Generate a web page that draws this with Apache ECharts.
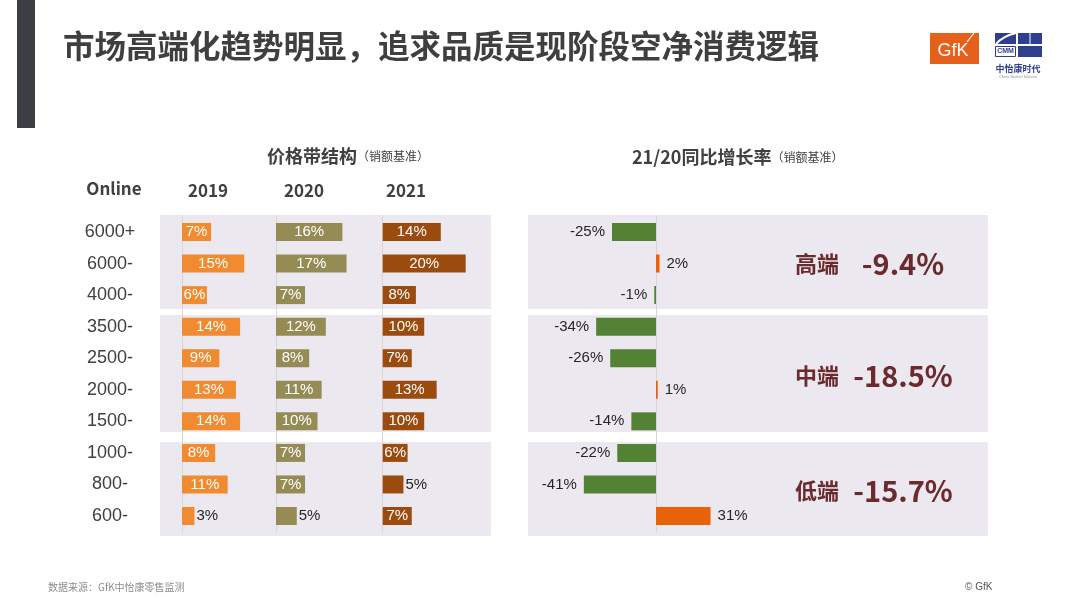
<!DOCTYPE html>
<html>
<head>
<meta charset="utf-8">
<script src="https://cdn.jsdelivr.net/npm/echarts@6/dist/echarts.min.js"></script>
<style>
html,body{margin:0;padding:0;background:#fff;}
#chart{width:1080px;height:608px;}
</style>
</head>
<body>
<div id="chart"></div>
<script>
// ---- data ----
const rows = ['6000+','6000-','4000-','3500-','2500-','2000-','1500-','1000-','800-','600-'];
const years = ['2019','2020','2021'];
const share2019 = [7,15,6,14,9,13,14,8,11,3];
const share2020 = [16,17,7,12,8,11,10,7,7,5];
const share2021 = [14,20,8,10,7,13,10,6,5,7];
const growth = [-25,2,-1,-34,-26,1,-14,-22,-41,31];
const segments = ['高端','中端','低端'];
const segmentGrowth = ['-9.4%','-18.5%','-15.7%'];

// ---- styles ----
const yearColors = ['#f28a30','#948b55','#9c4b0e'];
const negColor = '#548235';
const posColor = '#e8620a';
const numFont = 'Liberation Sans, Arial, sans-serif';
const cjkFont = '"Noto Sans CJK SC", sans-serif';
const textDark = '#404040';

const gridTop = 216.2, gridH = 315.6;
const colLefts = [182, 276, 382.7];
const pxPerPct = 4.15;
const leftMax = 25;
const rightMin = -45, rightMax = 35, rightPx = 1.76;
const zeroX = 656;

const shares = [share2019, share2020, share2021];

const chart = echarts.init(document.getElementById('chart'));

const grids = [], xAxes = [], yAxes = [], series = [];
colLefts.forEach((l, i) => {
  grids.push({left: l, top: gridTop, width: leftMax * pxPerPct, height: gridH});
  xAxes.push({type: 'value', gridIndex: i, min: 0, max: leftMax, show: false});
  yAxes.push({
    type: 'category', gridIndex: i, data: rows, inverse: true,
    axisTick: {show: false},
    axisLine: {show: true, lineStyle: {color: '#d6d6d6', width: 1}},
    axisLabel: i === 0 ? {show: true, align: 'center', margin: 72, fontSize: 18, color: textDark, fontFamily: numFont, padding: [4, 0, 0, 0]} : {show: false}
  });
  series.push({
    type: 'bar', xAxisIndex: i, yAxisIndex: i, barWidth: 18,
    itemStyle: {color: yearColors[i]},
    data: shares[i].map(v => ({
      value: v,
      label: v <= 5
        ? {show: true, position: 'right', distance: 2, color: '#262626'}
        : {show: true, position: 'inside', color: '#ffffff'}
    })),
    label: {show: true, formatter: '{c}%', fontSize: 15, fontFamily: numFont}
  });
});

// right grid
grids.push({left: zeroX + rightMin * rightPx, top: gridTop, width: (rightMax - rightMin) * rightPx, height: gridH});
xAxes.push({type: 'value', gridIndex: 3, min: rightMin, max: rightMax, show: false});
yAxes.push({
  type: 'category', gridIndex: 3, data: rows, inverse: true,
  axisTick: {show: false}, axisLabel: {show: false},
  axisLine: {show: true, onZero: true, lineStyle: {color: '#d6d6d6', width: 1}}
});
series.push({
  type: 'bar', xAxisIndex: 3, yAxisIndex: 3, barWidth: 18,
  data: growth.map(v => ({
    value: v,
    itemStyle: {color: v < 0 ? negColor : posColor},
    label: {position: v < 0 ? 'left' : 'right'}
  })),
  label: {show: true, formatter: '{c}%', fontSize: 15, fontFamily: numFont, color: '#262626', distance: 7}
});

// ---- decorations ----
const bandsY = [[215, 309], [315, 432], [442, 536]];
const graphic = [];
bandsY.forEach(([a, b]) => {
  graphic.push({type: 'rect', z: -1, shape: {x: 160, y: a, width: 331, height: b - a}, style: {fill: '#ebe8ef'}});
  graphic.push({type: 'rect', z: -1, shape: {x: 528, y: a, width: 460, height: b - a}, style: {fill: '#ebe8ef'}});
});
// left bar and title
graphic.push({type: 'rect', shape: {x: 17, y: 0, width: 18, height: 128}, style: {fill: '#3b3e43'}});
graphic.push({type: 'text', x: 63, y: 46, style: {text: '市场高端化趋势明显，追求品质是现阶段空净消费逻辑', font: 'bold 31.5px ' + cjkFont, fill: '#3f3f3f', textVerticalAlign: 'middle'}});
// panel titles
graphic.push({type: 'text', x: 267, y: 156, style: {
  rich: {a: {font: 'bold 18px ' + cjkFont, fill: '#404040'}, b: {font: '12px ' + cjkFont, fill: '#404040'}},
  text: '{a|价格带结构}{b|（销额基准）}', textVerticalAlign: 'middle'}});
graphic.push({type: 'text', x: 632, y: 157, style: {
  rich: {a: {font: 'bold 18px ' + cjkFont, fill: '#404040'}, b: {font: '12px ' + cjkFont, fill: '#404040'}},
  text: '{a|21/20同比增长率}{b|（销额基准）}', textVerticalAlign: 'middle'}});
// column headers
graphic.push({type: 'text', x: 114, y: 189, style: {text: 'Online', font: 'bold 17px ' + cjkFont, fill: '#404040', textAlign: 'center', textVerticalAlign: 'middle'}});
const headerX = [208, 304, 406];
years.forEach((y, i) => {
  graphic.push({type: 'text', x: headerX[i], y: 191, style: {text: y, font: 'bold 17px ' + cjkFont, fill: '#404040', textAlign: 'center', textVerticalAlign: 'middle'}});
});
// segment labels
bandsY.forEach(([a, b], i) => {
  const cy = (a + b) / 2 + 2;
  graphic.push({type: 'text', x: 817, y: cy, style: {text: segments[i], font: 'bold 22px ' + cjkFont, fill: '#6b2a2e', textAlign: 'center', textVerticalAlign: 'middle'}});
  graphic.push({type: 'text', x: 903, y: cy, style: {text: segmentGrowth[i], font: 'bold 29px ' + cjkFont, fill: '#6b2a2e', textAlign: 'center', textVerticalAlign: 'middle'}});
});
// GfK logo
graphic.push({type: 'rect', shape: {x: 930, y: 33, width: 49, height: 31}, style: {fill: '#e5601a'}});
graphic.push({type: 'text', x: 953, y: 51, style: {text: 'GfK', font: '18px ' + numFont, fill: '#ffffff', textAlign: 'center', textVerticalAlign: 'middle'}});
graphic.push({type: 'line', shape: {x1: 967, y1: 42, x2: 974, y2: 33}, style: {stroke: '#ffffff', lineWidth: 1.2}});
// CMM logo
const cmmBlue = '#2e3f8f';
graphic.push({type: 'rect', shape: {x: 995, y: 33, width: 21, height: 11}, style: {fill: cmmBlue}});
graphic.push({type: 'rect', shape: {x: 1018, y: 33, width: 24, height: 11}, style: {fill: cmmBlue}});
graphic.push({type: 'rect', shape: {x: 1018, y: 46, width: 24, height: 11}, style: {fill: cmmBlue}});
graphic.push({type: 'rect', shape: {x: 995.5, y: 46.5, width: 20, height: 10}, style: {fill: '#ffffff', stroke: cmmBlue, lineWidth: 1}});
graphic.push({type: 'bezierCurve', shape: {x1: 996, y1: 44, x2: 1016, y2: 33, cpx1: 1003, cpy1: 36}, style: {stroke: '#ffffff', lineWidth: 2, fill: null}});
graphic.push({type: 'line', shape: {x1: 1030, y1: 33, x2: 1030, y2: 44}, style: {stroke: '#ffffff', lineWidth: 1}});
graphic.push({type: 'text', x: 1005.5, y: 51.5, style: {text: 'CMM', font: 'bold 7px ' + numFont, fill: cmmBlue, textAlign: 'center', textVerticalAlign: 'middle'}});
graphic.push({type: 'text', x: 1018, y: 69, style: {text: '中怡康时代', font: 'bold 9px ' + cjkFont, fill: cmmBlue, textAlign: 'center', textVerticalAlign: 'middle'}});
graphic.push({type: 'text', x: 1018, y: 77, style: {text: 'China Market Monitor', font: '4px ' + numFont, fill: '#999999', textAlign: 'center', textVerticalAlign: 'middle'}});
// footer
graphic.push({type: 'text', x: 48, y: 587, style: {text: '数据来源：GfK中怡康零售监测', font: '10px ' + cjkFont, fill: '#8c8c8c', textVerticalAlign: 'middle'}});
graphic.push({type: 'text', x: 965, y: 587, style: {text: '© GfK', font: '10px ' + numFont, fill: '#555555', textVerticalAlign: 'middle'}});

chart.setOption({
  animation: false,
  backgroundColor: '#ffffff',
  grid: grids,
  xAxis: xAxes,
  yAxis: yAxes,
  series: series,
  graphic: graphic
});
</script>
</body>
</html>
